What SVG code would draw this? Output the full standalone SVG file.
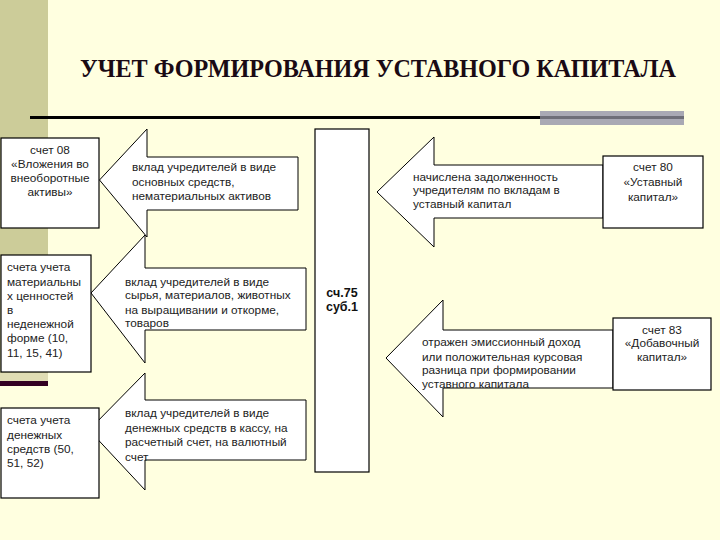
<svg xmlns="http://www.w3.org/2000/svg" width="720" height="540" viewBox="0 0 720 540">
<style>
.box{fill:#ffffff;stroke:#000;stroke-width:1.2}
.arr{fill:#ffffff;stroke:#000;stroke-width:1}
.t{font-family:"Liberation Sans",Arial,sans-serif;font-size:11.8px;fill:#222}
.c{text-anchor:middle}
.b{font-weight:bold;font-size:12.5px;fill:#111}
.title{font-family:"Liberation Serif","Times New Roman",serif;font-weight:bold;font-size:25px;fill:#1a0a14}
</style>
<rect x="0" y="0" width="720" height="540" fill="#ffffe0"/>
<rect x="0" y="0" width="48" height="373" fill="#cccc99"/>
<rect x="0" y="373" width="48" height="8" fill="#e0ddb4"/>
<rect x="0" y="381" width="48" height="5" fill="#330022"/>
<text class="title" x="378" y="77" text-anchor="middle" textLength="596" lengthAdjust="spacingAndGlyphs">УЧЕТ ФОРМИРОВАНИЯ УСТАВНОГО КАПИТАЛА</text>
<rect x="540" y="111" width="144" height="14" fill="#a9a9b4"/>
<line x1="30" y1="117.5" x2="540" y2="117.5" stroke="#000" stroke-width="3"/>
<line x1="540" y1="117.5" x2="684" y2="117.5" stroke="#6e6e78" stroke-width="3"/>

<g id="connectors">
<path class="arr" d="M99.5,180 L147,129 L147,157 L298,157 L298,210 L147,210 L147,237 Z"/>
<path class="arr" d="M91,293 L145,235 L145,268 L306,268 L306,330 L145,330 L145,363 Z"/>
<path class="arr" d="M89,430 L145,373 L145,400 L306,400 L306,460 L145,460 L145,490 Z"/>
<path class="arr" d="M377,192 L434,137 L434,165 L603,165 L603,218 L434,218 L434,247 Z"/>
<path class="arr" d="M386,358 L443,300 L443,330 L613,330 L613,388 L443,388 L443,417 Z"/>
<g class="t">
<text x="132" y="171">вклад учредителей в виде</text>
<text x="132" y="186">основных средств,</text>
<text x="132" y="200">нематериальных активов</text>
<text x="125" y="286">вклад учредителей в виде</text>
<text x="125" y="299">сырья, материалов, животных</text>
<text x="125" y="314">на выращивании и откорме,</text>
<text x="125" y="327">товаров</text>
<text x="125" y="417">вклад учредителей в виде</text>
<text x="125" y="432">денежных средств  в кассу, на</text>
<text x="125" y="446">расчетный счет, на валютный</text>
<text x="125" y="461">счет</text>
<text x="413" y="181">начислена задолженность</text>
<text x="413" y="194">учредителям по вкладам в</text>
<text x="413" y="208">уставный капитал</text>
<text x="422" y="346">отражен эмиссионный доход</text>
<text x="422" y="361">или положительная курсовая</text>
<text x="422" y="374">разница при формировании</text>
<text x="422" y="388">уставного капитала</text>
</g>
</g>

<g id="n-08">
<rect class="box" x="1" y="138" width="98" height="90"/>
<text class="t c" x="50" y="154">счет 08</text>
<text class="t c" x="50" y="168">«Вложения во</text>
<text class="t c" x="50" y="182">внеоборотные</text>
<text class="t c" x="50" y="196">активы»</text>
</g>
<g id="n-mat">
<rect class="box" x="1" y="255" width="90" height="117"/>
<text class="t" x="7" y="271">счета учета</text>
<text class="t" x="7" y="286">материальны</text>
<text class="t" x="7" y="300">х ценностей</text>
<text class="t" x="7" y="314">в</text>
<text class="t" x="7" y="328">неденежной</text>
<text class="t" x="7" y="342">форме (10,</text>
<text class="t" x="7" y="357">11, 15, 41)</text>
</g>
<g id="n-money">
<rect class="box" x="1" y="408" width="98" height="90"/>
<text class="t" x="7" y="424">счета учета</text>
<text class="t" x="7" y="439">денежных</text>
<text class="t" x="7" y="453">средств (50,</text>
<text class="t" x="7" y="467">51, 52)</text>
</g>
<g id="n-75">
<rect class="box" x="315" y="129" width="54" height="343"/>
<text class="t c b" x="342" y="297">сч.75</text>
<text class="t c b" x="342" y="311">суб.1</text>
</g>
<g id="n-80">
<rect class="box" x="603" y="156" width="100" height="72"/>
<text class="t c" x="653" y="171">счет 80</text>
<text class="t c" x="653" y="186">«Уставный</text>
<text class="t c" x="653" y="201">капитал»</text>
</g>
<g id="n-83">
<rect class="box" x="613" y="318" width="98" height="72"/>
<text class="t c" x="662" y="334">счет 83</text>
<text class="t c" x="662" y="347">«Добавочный</text>
<text class="t c" x="662" y="361">капитал»</text>
</g>
</svg>
